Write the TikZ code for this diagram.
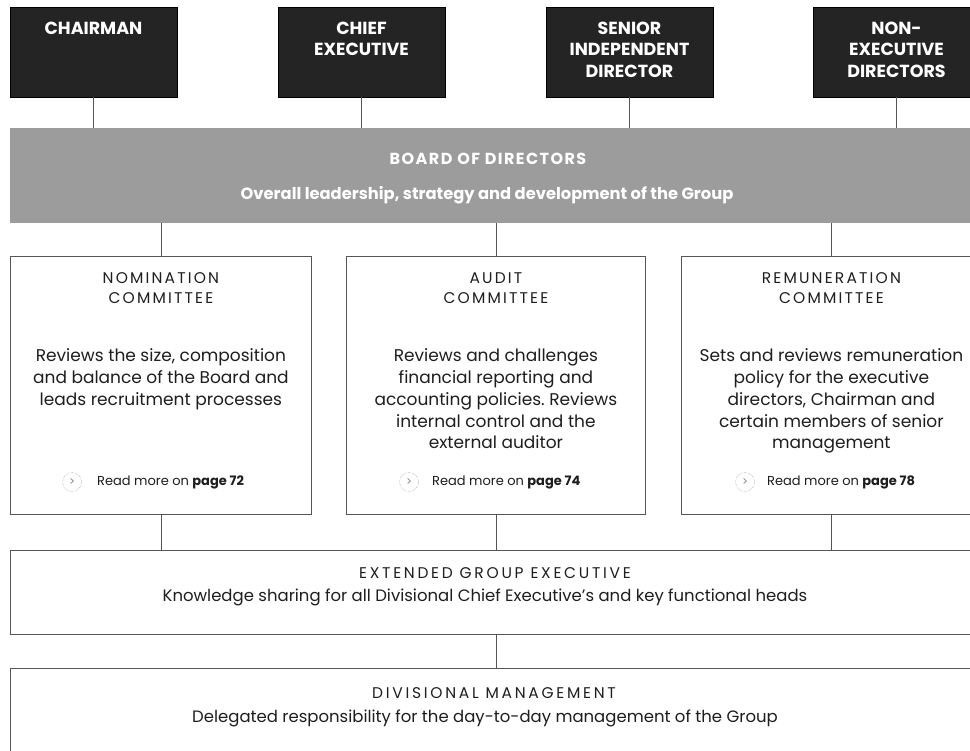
\documentclass[tikz,border=0pt]{standalone}
\usepackage{fontspec}
\setmainfont{Poppins}
\newfontfamily\capsfont[LetterSpace=14]{Poppins}
\newfontfamily\widecapsfont[LetterSpace=17.5]{Poppins}
\newfontfamily\boardfont[LetterSpace=9]{Poppins}
\definecolor{darkbox}{HTML}{242424}
\definecolor{boardgray}{HTML}{9C9C9C}
\definecolor{linegray}{HTML}{555555}
\definecolor{txt}{HTML}{1E1E1E}
\frenchspacing
\begin{document}
\begin{tikzpicture}[x=1pt,y=-1pt,
  topbox/.style={draw=black, fill=darkbox, minimum width=167pt, minimum height=90pt, inner sep=0pt, anchor=north west},
  toptext/.style={text=white, font=\bfseries\fontsize{17.5}{21.5}\selectfont, align=center, anchor=north, inner sep=0pt},
  wbox/.style={draw=linegray, line width=0.8pt, fill=white, inner sep=0pt, anchor=north west},
  ttl/.style={text=txt, font=\capsfont\fontsize{15.5}{20.5}\selectfont, align=center, anchor=north, inner sep=0pt},
  wttl/.style={text=txt, font=\widecapsfont\fontsize{15.5}{20.5}\selectfont, align=center, anchor=north, inner sep=0pt},
  body/.style={text=txt, font=\fontsize{17}{21.8}\selectfont, align=center, anchor=north, inner sep=0pt},
  wbody/.style={text=txt, font=\fontsize{16.5}{21}\selectfont, align=center, anchor=north, inner sep=0pt},
  more/.style={text=txt, font=\fontsize{13}{14}\selectfont, anchor=west, inner sep=0pt},
  icon/.style={circle, draw=gray, densely dotted, minimum size=19pt, inner sep=0pt, font=\fontsize{11}{11}\selectfont, text=gray},
  conn/.style={draw=linegray, line width=0.8pt}
]
\useasboundingbox (0,0) rectangle (970,751);
\clip (0,0) rectangle (970,751);
\fill[white] (0,0) rectangle (970,751);

% top row
\node[topbox] (chair) at (10,7) {};
\node[topbox] (ceo) at (278,7) {};
\node[topbox] (sid) at (546,7) {};
\node[topbox] (ned) at (813,7) {};
\node[toptext] (chairT) at (93.5,21.5) {CHAIRMAN};
\node[toptext] (ceoT) at (361.5,21.5) {CHIEF\\EXECUTIVE};
\node[toptext] (sidT) at (629.5,21.5) {SENIOR\\INDEPENDENT\\DIRECTOR};
\node[toptext] (nedT) at (896.5,21.5) {NON-\\EXECUTIVE\\DIRECTORS};

% board
\node[fill=boardgray, minimum width=970pt, minimum height=95pt, inner sep=0pt, anchor=north west] (board) at (10,128) {};
\node[text=white, font=\boardfont\bfseries\fontsize{16}{18}\selectfont, inner sep=0pt, anchor=north] (boardT) at (488,153) {BOARD OF DIRECTORS};
\node[text=white, font=\bfseries\fontsize{16.3}{18}\selectfont, inner sep=0pt, anchor=north] (boardS) at (487,186.5) {Overall leadership, strategy and development of the Group};

\foreach \n in {chair,ceo,sid,ned}{\draw[conn] (\n.south) -- (\n.south |- board.north);}

% committees
\node[wbox, minimum width=301pt, minimum height=258pt] (nom) at (10,256) {};
\node[wbox, minimum width=299pt, minimum height=258pt] (aud) at (346,256) {};
\node[wbox, minimum width=300pt, minimum height=258pt] (rem) at (681,256) {};

\foreach \n in {nom,aud,rem}{\draw[conn] (\n.north) -- (\n.north |- board.south);}

\node[ttl] (nomT) at (nom.north |- 0,272) {NOMINATION\\COMMITTEE};
\node[ttl] (audT) at (aud.north |- 0,272) {AUDIT\\COMMITTEE};
\node[ttl] (remT) at (rem.north |- 0,272) {REMUNERATION\\COMMITTEE};

\node[body] (nomB) at (nom.north |- 0,348.5) {Reviews the size, composition\\and balance of the Board and\\leads recruitment processes};
\node[body] (audB) at (aud.north |- 0,348.5) {Reviews and challenges\\financial reporting and\\accounting policies. Reviews\\internal control and the\\external auditor};
\node[body] (remB) at (rem.north |- 0,348.5) {Sets and reviews remuneration\\policy for the executive\\directors, Chairman and\\certain members of senior\\management};

\node[icon] (nomI) at (72,482) {>};
\node[more] (nomM) at (97,482) {Read more on \textbf{page 72}};
\node[icon] (audI) at (409,482) {>};
\node[more] (audM) at (432,482) {Read more on \textbf{page 74}};
\node[icon] (remI) at (745,482) {>};
\node[more] (remM) at (767,482) {Read more on \textbf{page 78}};

% extended group executive
\node[wbox, minimum width=970pt, minimum height=84pt] (ext) at (10,550) {};
\foreach \n in {nom,aud,rem}{\draw[conn] (\n.south) -- (\n.south |- ext.north);}
\node[wttl] (extT) at (495,567) {EXTENDED GROUP EXECUTIVE};
\node[wbody] (extB) at (485,589) {Knowledge sharing for all Divisional Chief Executive’s and key functional heads};

% divisional management
\node[wbox, minimum width=970pt, minimum height=100pt] (div) at (10,668) {};
\draw[conn] (aud.south |- ext.south) -- (aud.south |- div.north);
\node[wttl] (divT) at (494,687) {DIVISIONAL MANAGEMENT};
\node[wbody] (divB) at (485,710) {Delegated responsibility for the day-to-day management of the Group};
\end{tikzpicture}
\end{document}
